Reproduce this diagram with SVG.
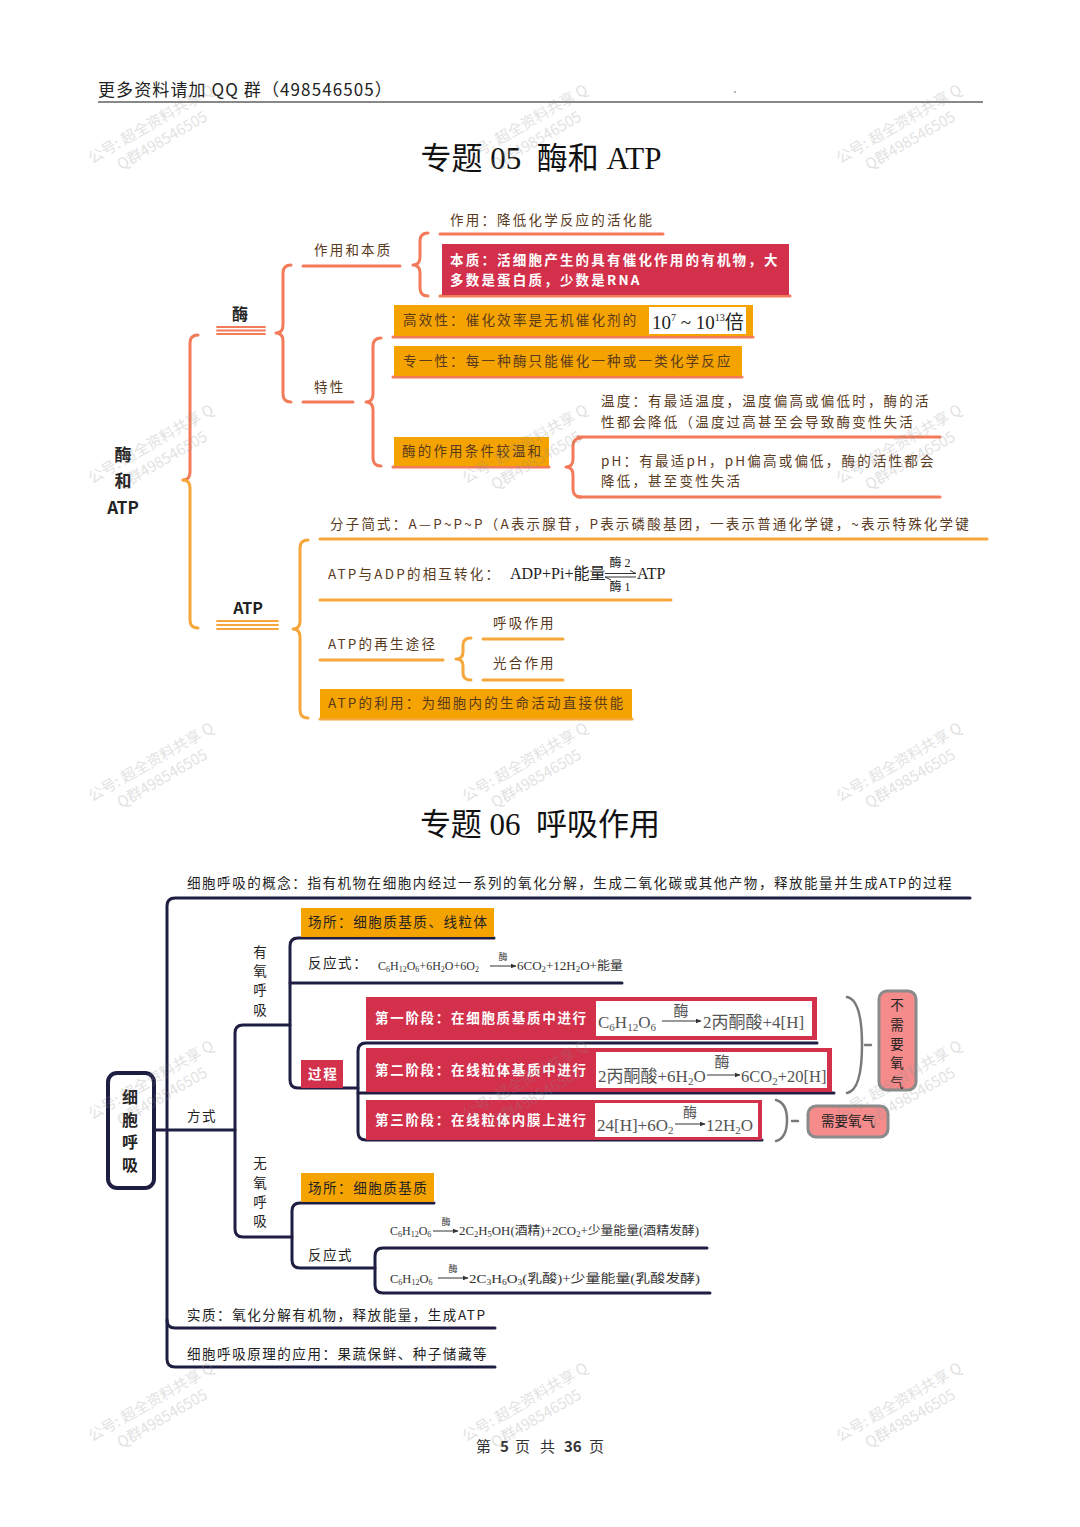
<svg xmlns="http://www.w3.org/2000/svg" width="1080" height="1527" viewBox="0 0 1080 1527">
<defs>
<style>
.hw{font-family:"Noto Sans CJK SC","Noto Sans",sans-serif;font-size:13.5px;letter-spacing:2.2px;fill:#5a3a1c}
.hwb{font-family:"Noto Sans CJK SC","Noto Sans",sans-serif;font-size:13.5px;letter-spacing:2.2px;fill:#fff;font-weight:700}
.rt{font-family:"Noto Sans CJK SC","Noto Sans",sans-serif;font-size:17px;font-weight:700;fill:#222;text-anchor:middle}
.nv{font-family:"Noto Sans CJK SC","Noto Sans",sans-serif;font-size:13.5px;letter-spacing:1.55px;fill:#222}
.nvw{font-family:"Noto Sans CJK SC","Noto Sans",sans-serif;font-size:13.5px;letter-spacing:1.7px;fill:#fff;font-weight:700}
.vc{font-family:"Noto Sans CJK SC","Noto Sans",sans-serif;font-size:13.5px;fill:#222;text-anchor:middle}
.sr{font-family:"Liberation Serif","Noto Sans CJK SC",serif}
.title{font-family:"Liberation Serif","Noto Sans CJK SC",serif;font-size:31px;fill:#111;text-anchor:middle;white-space:pre}
.lc{fill:none;stroke:#f37b5a;stroke-width:3;stroke-linecap:round;stroke-linejoin:round}
.lct{fill:none;stroke:#f37b5a;stroke-width:1.8;stroke-linecap:round}
.lo{fill:none;stroke:#f6a63a;stroke-width:3;stroke-linecap:round;stroke-linejoin:round}
.lot{fill:none;stroke:#f6a63a;stroke-width:1.8;stroke-linecap:round}
.ln{fill:none;stroke:#1e1e42;stroke-width:3;stroke-linecap:round;stroke-linejoin:round}
.ob{fill:#f4a300}
.rb{fill:#d3304c}
.wb{fill:#fff}
.ar{fill:none;stroke:#333;stroke-width:1}
.gb{fill:none;stroke:#7a7a7a;stroke-width:2.5;stroke-linecap:round}
.pk{fill:#f58b8b;stroke:#8a8a8a;stroke-width:3}
.wm{font-family:"Noto Sans CJK SC","Noto Sans",sans-serif;font-size:15px;fill:#8c8c8c;opacity:0.25}
</style>
<marker id="ah" viewBox="0 0 10 10" refX="9" refY="5" markerWidth="6" markerHeight="6" orient="auto" markerUnits="userSpaceOnUse"><path d="M0 1 L10 5 L0 9 z" fill="#333"/></marker>
</defs>
<rect width="1080" height="1527" fill="#fff"/>

<g id="header">
<text x="98" y="96" style="font-family:'Noto Sans CJK SC',sans-serif;font-size:17px;letter-spacing:1.1px;fill:#222">更多资料请加 QQ 群（498546505）</text>
<line x1="98" y1="102" x2="983" y2="102" stroke="#888" stroke-width="2"/>
<circle cx="735" cy="92" r="0.8" fill="#555"/>
</g>

<text id="title1" class="title" x="541" y="169">专题 05  酶和 ATP</text>
<text id="title2" class="title" x="540" y="835">专题 06  呼吸作用</text>

<g id="connectors">
<path class="lc" d="M198 335 Q190 335 190 343 L190 472 Q190 480 183 480"/>
<path class="lo" d="M183 480 Q190 480 190 488 L190 620 Q190 628 198 628"/>
<path class="lc" d="M291 265 Q283 265 283 273 L283 325 Q283 333 276 333 Q283 333 283 341 L283 394 Q283 402 291 402"/>
<path class="lc" d="M428 233 Q420 233 420 241 L420 257 Q420 265 413 265 Q420 265 420 273 L420 288 Q420 296 428 296"/>
<path class="lc" d="M381 338 Q373 338 373 346 L373 394 Q373 402 366 402 Q373 402 373 410 L373 458 Q373 466 381 466"/>
<path class="lc" d="M581 438 Q573 438 573 446 L573 459 Q573 467 566 467 Q573 467 573 475 L573 489 Q573 497 581 497"/>
<path class="lo" d="M308 540 Q300 540 300 548 L300 621 Q300 629 293 629 Q300 629 300 637 L300 710 Q300 718 308 718"/>
<path class="lo" d="M471 638 Q463 638 463 645 L463 652 Q463 659 456 659 Q463 659 463 666 L463 673 Q463 680 471 680"/>
<path class="lc" d="M440 234 L663 234"/>
<path class="lc" d="M303 266 L400 266"/>
<path class="lc" d="M440 296 L790 296"/>
<path class="lc" d="M393 337 L753 337"/>
<path class="lc" d="M393 377 L742 377"/>
<path class="lc" d="M303 402 L353 402"/>
<path class="lc" d="M393 467 L549 467"/>
<path class="lc" d="M578 437 L940 437"/>
<path class="lc" d="M578 497 L940 497"/>
<path class="lo" d="M320 539 L987 539"/>
<path class="lo" d="M320 600 L671 600"/>
<path class="lo" d="M320 660 L443 660"/>
<path class="lo" d="M483 639 L563 639"/>
<path class="lo" d="M483 680 L563 680"/>
<path class="lo" d="M320 719 L632 719"/>
<path class="lct" d="M217 327 L265 327 M217 330.5 L265 330.5 M217 334 L265 334"/>
<path class="lot" d="M217 621 L278 621 M217 625 L278 625 M217 629 L278 629"/>
<path class="ln" d="M970 898 L175 898 Q167 898 167 906 L167 1359 Q167 1367 175 1367 L495 1367"/>
<path class="ln" d="M167 1320 Q167 1328 175 1328 L495 1328"/>
<path class="ln" d="M155 1130 L235 1130"/>
<path class="ln" d="M290 1025 L243 1025 Q235 1025 235 1033 L235 1229 Q235 1237 243 1237 L292 1237"/>
<path class="ln" d="M494 938 L298 938 Q290 938 290 946 L290 1080 Q290 1088 298 1088 L358 1088"/>
<path class="ln" d="M290 983 L622 983"/>
<path class="ln" d="M817 1043 L366 1043 Q358 1043 358 1051 L358 1132 Q358 1140 366 1140 L762 1140"/>
<path class="ln" d="M358 1093 L834 1093"/>
<path class="ln" d="M434 1203 L300 1203 Q292 1203 292 1211 L292 1260 Q292 1268 300 1268 L375 1268"/>
<path class="ln" d="M707 1248 L383 1248 Q375 1248 375 1256 L375 1285 Q375 1293 383 1293 L710 1293"/>
<path class="gb" d="M847 997 Q862 1000 862 1045 Q862 1090 847 1093"/>
<path class="gb" d="M865 1045 L871 1045"/>
<path class="gb" d="M776 1100 Q787 1103 787 1120 Q787 1138 776 1141"/>
<path class="gb" d="M792 1121 L798 1121"/>
</g>

<g id="root1">
<text class="rt" x="123" y="461">酶</text>
<text class="rt" x="123" y="487">和</text>
<text class="rt" x="123" y="514">ATP</text>
</g>
<g id="enzyme"><text class="rt" x="240" y="320" style="font-size:16px">酶</text></g>
<g id="atp"><text class="rt" x="248" y="614" style="font-size:16px">ATP</text></g>
<g id="zuoyong-benzhi"><text class="hw" x="314" y="255">作用和本质</text></g>
<g id="zuoyong"><text class="hw" x="450" y="225">作用：降低化学反应的活化能</text></g>
<g id="benzhi">
<rect class="rb" x="442" y="244" width="347" height="51"/>
<text class="hwb" x="450" y="265">本质：活细胞产生的具有催化作用的有机物，大</text>
<text class="hwb" x="450" y="285">多数是蛋白质，少数是RNA</text>
</g>
<g id="texing"><text class="hw" x="314" y="392">特性</text></g>
<g id="gaoxiao">
<rect class="ob" x="394" y="305" width="359" height="31"/>
<text class="hw" x="403" y="325">高效性：催化效率是无机催化剂的</text>
<rect class="wb" x="649" y="307" width="97" height="27"/>
<text class="sr" x="652" y="329" font-size="19" fill="#222">10<tspan dy="-8" font-size="10">7</tspan><tspan dy="8"> ~ 10</tspan><tspan dy="-8" font-size="10">13</tspan><tspan dy="8">倍</tspan></text>
</g>
<g id="zhuanyi">
<rect class="ob" x="394" y="346" width="348" height="30"/>
<text class="hw" x="403" y="366">专一性：每一种酶只能催化一种或一类化学反应</text>
</g>
<g id="wenhe">
<rect class="ob" x="394" y="437" width="155" height="29"/>
<text class="hw" x="402" y="456">酶的作用条件较温和</text>
</g>
<g id="wendu">
<text class="hw" x="601" y="406">温度：有最适温度，温度偏高或偏低时，酶的活</text>
<text class="hw" x="601" y="427">性都会降低（温度过高甚至会导致酶变性失活</text>
</g>
<g id="ph">
<text class="hw" x="601" y="466">pH：有最适pH，pH偏高或偏低，酶的活性都会</text>
<text class="hw" x="601" y="486">降低，甚至变性失活</text>
</g>
<g id="fenzi"><text class="hw" x="330" y="529">分子简式：A—P~P~P（A表示腺苷，P表示磷酸基团，一表示普通化学键，~表示特殊化学键</text></g>
<g id="zhuanhua">
<text class="hw" x="328" y="579">ATP与ADP的相互转化：</text>
<text class="sr" x="510" y="579" font-size="16" fill="#222">ADP+Pi+能量</text>
<text class="sr" x="637" y="579" font-size="16" fill="#222">ATP</text>
<text class="sr" x="620" y="567" font-size="12" fill="#222" text-anchor="middle">酶 2</text>
<text class="sr" x="620" y="591" font-size="12" fill="#222" text-anchor="middle">酶 1</text>
<path class="ar" d="M605 573.5 L636 573.5 L630 570.5"/>
<path class="ar" d="M636 577 L605 577 L611 580"/>
</g>
<g id="zaisheng"><text class="hw" x="328" y="649">ATP的再生途径</text></g>
<g id="huxi-zy"><text class="hw" x="493" y="628">呼吸作用</text></g>
<g id="guanghe"><text class="hw" x="493" y="668">光合作用</text></g>
<g id="liyong">
<rect class="ob" x="320" y="689" width="312" height="29"/>
<text class="hw" x="328" y="708">ATP的利用：为细胞内的生命活动直接供能</text>
</g>

<g id="gainian"><text class="nv" x="187" y="888">细胞呼吸的概念：指有机物在细胞内经过一系列的氧化分解，生成二氧化碳或其他产物，释放能量并生成ATP的过程</text></g>
<g id="root2">
<rect x="108" y="1073" width="46" height="115" rx="9" fill="#fff" stroke="#1e1e42" stroke-width="4"/>
<text class="rt" x="130" y="1103" style="font-size:16px">细</text>
<text class="rt" x="130" y="1126" style="font-size:16px">胞</text>
<text class="rt" x="130" y="1148" style="font-size:16px">呼</text>
<text class="rt" x="130" y="1171" style="font-size:16px">吸</text>
</g>
<g id="fangshi"><text class="nv" x="187" y="1121">方式</text></g>
<g id="youyang">
<text class="vc" x="260" y="957">有</text>
<text class="vc" x="260" y="976">氧</text>
<text class="vc" x="260" y="995">呼</text>
<text class="vc" x="260" y="1015">吸</text>
</g>
<g id="changsuo1">
<rect class="ob" x="301" y="908" width="193" height="29"/>
<text class="nv" x="308" y="927">场所：细胞质基质、线粒体</text>
</g>
<g id="fanying1">
<text class="nv" x="308" y="968">反应式：</text>
<text class="sr" x="378" y="970" font-size="12" fill="#333">C<tspan dy="2" font-size="8">6</tspan><tspan dy="-2">H</tspan><tspan dy="2" font-size="8">12</tspan><tspan dy="-2">O</tspan><tspan dy="2" font-size="8">6</tspan><tspan dy="-2">+6H</tspan><tspan dy="2" font-size="8">2</tspan><tspan dy="-2">O+6O</tspan><tspan dy="2" font-size="8">2</tspan></text>
<line class="ar" x1="490" y1="966" x2="516" y2="966" marker-end="url(#ah)"/>
<text class="sr" x="503" y="960" font-size="9" fill="#333" text-anchor="middle">酶</text>
<text class="sr" x="517" y="970" font-size="12" fill="#333" textLength="106" lengthAdjust="spacingAndGlyphs">6CO<tspan dy="2" font-size="8">2</tspan><tspan dy="-2">+12H</tspan><tspan dy="2" font-size="8">2</tspan><tspan dy="-2">O+能量</tspan></text>
</g>
<g id="guocheng">
<rect class="rb" x="301" y="1060" width="42" height="28"/>
<text class="nvw" x="308" y="1079">过程</text>
</g>
<g id="stage1">
<rect class="rb" x="366" y="997" width="451" height="43"/>
<rect class="wb" x="596" y="1001" width="216" height="35"/>
<text class="nvw" x="375" y="1023">第一阶段：在细胞质基质中进行</text>
<text class="sr" x="598" y="1028" font-size="17" fill="#555">C<tspan dy="3" font-size="11">6</tspan><tspan dy="-3">H</tspan><tspan dy="3" font-size="11">12</tspan><tspan dy="-3">O</tspan><tspan dy="3" font-size="11">6</tspan></text>
<line class="ar" x1="662" y1="1021" x2="701" y2="1021" marker-end="url(#ah)"/>
<text class="sr" x="681" y="1016" font-size="15" fill="#555" text-anchor="middle">酶</text>
<text class="sr" x="703" y="1028" font-size="17" fill="#555">2丙酮酸+4[H]</text>
</g>
<g id="stage2">
<rect class="rb" x="366" y="1048" width="466" height="44"/>
<rect class="wb" x="596" y="1052" width="231" height="36"/>
<text class="nvw" x="375" y="1075">第二阶段：在线粒体基质中进行</text>
<text class="sr" x="598" y="1082" font-size="17" fill="#555">2丙酮酸+6H<tspan dy="3" font-size="11">2</tspan><tspan dy="-3">O</tspan></text>
<line class="ar" x1="707" y1="1075" x2="740" y2="1075" marker-end="url(#ah)"/>
<text class="sr" x="722" y="1067" font-size="15" fill="#555" text-anchor="middle">酶</text>
<text class="sr" x="741" y="1082" font-size="16.5" fill="#555">6CO<tspan dy="3" font-size="11">2</tspan><tspan dy="-3">+20[H]</tspan></text>
</g>
<g id="stage3">
<rect class="rb" x="366" y="1100" width="396" height="40"/>
<rect class="wb" x="595" y="1103" width="163" height="34"/>
<text class="nvw" x="375" y="1125">第三阶段：在线粒体内膜上进行</text>
<text class="sr" x="597" y="1131" font-size="17" fill="#555">24[H]+6O<tspan dy="3" font-size="11">2</tspan></text>
<line class="ar" x1="675" y1="1124" x2="705" y2="1124" marker-end="url(#ah)"/>
<text class="sr" x="690" y="1117" font-size="14" fill="#555" text-anchor="middle">酶</text>
<text class="sr" x="706" y="1131" font-size="17" fill="#555">12H<tspan dy="3" font-size="11">2</tspan><tspan dy="-3">O</tspan></text>
</g>
<g id="buxuyao">
<rect class="pk" x="879" y="991" width="37" height="99" rx="8"/>
<text class="vc" x="897" y="1010">不</text>
<text class="vc" x="897" y="1030">需</text>
<text class="vc" x="897" y="1049">要</text>
<text class="vc" x="897" y="1068">氧</text>
<text class="vc" x="897" y="1087" style="font-size:13px">气</text>
</g>
<g id="xuyao">
<rect class="pk" x="808" y="1106" width="80" height="31" rx="8"/>
<text class="vc" x="848" y="1126">需要氧气</text>
</g>
<g id="wuyang">
<text class="vc" x="260" y="1168">无</text>
<text class="vc" x="260" y="1188">氧</text>
<text class="vc" x="260" y="1207">呼</text>
<text class="vc" x="260" y="1226">吸</text>
</g>
<g id="changsuo2">
<rect class="ob" x="301" y="1173" width="133" height="29"/>
<text class="nv" x="308" y="1193">场所：细胞质基质</text>
</g>
<g id="fanying2"><text class="nv" x="308" y="1260">反应式</text></g>
<g id="jiujing">
<text class="sr" x="390" y="1235" font-size="12" fill="#333">C<tspan dy="2" font-size="8">6</tspan><tspan dy="-2">H</tspan><tspan dy="2" font-size="8">12</tspan><tspan dy="-2">O</tspan><tspan dy="2" font-size="8">6</tspan></text>
<line class="ar" x1="433" y1="1231" x2="458" y2="1231" marker-end="url(#ah)"/>
<text class="sr" x="446" y="1225" font-size="9" fill="#333" text-anchor="middle">酶</text>
<text class="sr" x="459" y="1235" font-size="12" fill="#333" textLength="240" lengthAdjust="spacingAndGlyphs">2C<tspan dy="2" font-size="8">2</tspan><tspan dy="-2">H</tspan><tspan dy="2" font-size="8">5</tspan><tspan dy="-2">OH(酒精)+2CO</tspan><tspan dy="2" font-size="8">2</tspan><tspan dy="-2">+少量能量(酒精发酵)</tspan></text>
</g>
<g id="rusuan">
<text class="sr" x="390" y="1283" font-size="12.5" fill="#333">C<tspan dy="2" font-size="8">6</tspan><tspan dy="-2">H</tspan><tspan dy="2" font-size="8">12</tspan><tspan dy="-2">O</tspan><tspan dy="2" font-size="8">6</tspan></text>
<line class="ar" x1="438" y1="1278" x2="468" y2="1278" marker-end="url(#ah)"/>
<text class="sr" x="453" y="1272" font-size="9" fill="#333" text-anchor="middle">酶</text>
<text class="sr" x="469" y="1283" font-size="12.5" fill="#333" textLength="231" lengthAdjust="spacingAndGlyphs">2C<tspan dy="2" font-size="8">3</tspan><tspan dy="-2">H</tspan><tspan dy="2" font-size="8">6</tspan><tspan dy="-2">O</tspan><tspan dy="2" font-size="8">3</tspan><tspan dy="-2">(乳酸)+少量能量(乳酸发酵)</tspan></text>
</g>
<g id="shizhi"><text class="nv" x="187" y="1320">实质：氧化分解有机物，释放能量，生成ATP</text></g>
<g id="yingyong"><text class="nv" x="187" y="1359">细胞呼吸原理的应用：果蔬保鲜、种子储藏等</text></g>

<g id="footer" style="font-family:'Noto Sans CJK SC',sans-serif;font-size:15px;fill:#333">
<text x="476" y="1452">第</text>
<text x="500" y="1452" style="font-weight:700">5</text>
<text x="515" y="1452">页</text>
<text x="540" y="1452">共</text>
<text x="564" y="1452" style="font-weight:700">36</text>
<text x="589" y="1452">页</text>
</g>

<g id="watermarks">
<g transform="translate(92 164) rotate(-30)"><text class="wm" x="0" y="0">公号: 超全资料共享 Q</text><text class="wm" x="22" y="20">Q群498546505</text></g>
<g transform="translate(466 164) rotate(-30)"><text class="wm" x="0" y="0">公号: 超全资料共享 Q</text><text class="wm" x="22" y="20">Q群498546505</text></g>
<g transform="translate(840 164) rotate(-30)"><text class="wm" x="0" y="0">公号: 超全资料共享 Q</text><text class="wm" x="22" y="20">Q群498546505</text></g>
<g transform="translate(92 484) rotate(-30)"><text class="wm" x="0" y="0">公号: 超全资料共享 Q</text><text class="wm" x="22" y="20">Q群498546505</text></g>
<g transform="translate(466 484) rotate(-30)"><text class="wm" x="0" y="0">公号: 超全资料共享 Q</text><text class="wm" x="22" y="20">Q群498546505</text></g>
<g transform="translate(840 484) rotate(-30)"><text class="wm" x="0" y="0">公号: 超全资料共享 Q</text><text class="wm" x="22" y="20">Q群498546505</text></g>
<g transform="translate(92 802) rotate(-30)"><text class="wm" x="0" y="0">公号: 超全资料共享 Q</text><text class="wm" x="22" y="20">Q群498546505</text></g>
<g transform="translate(466 802) rotate(-30)"><text class="wm" x="0" y="0">公号: 超全资料共享 Q</text><text class="wm" x="22" y="20">Q群498546505</text></g>
<g transform="translate(840 802) rotate(-30)"><text class="wm" x="0" y="0">公号: 超全资料共享 Q</text><text class="wm" x="22" y="20">Q群498546505</text></g>
<g transform="translate(92 1120) rotate(-30)"><text class="wm" x="0" y="0">公号: 超全资料共享 Q</text><text class="wm" x="22" y="20">Q群498546505</text></g>
<g transform="translate(466 1120) rotate(-30)"><text class="wm" x="0" y="0">公号: 超全资料共享 Q</text><text class="wm" x="22" y="20">Q群498546505</text></g>
<g transform="translate(840 1120) rotate(-30)"><text class="wm" x="0" y="0">公号: 超全资料共享 Q</text><text class="wm" x="22" y="20">Q群498546505</text></g>
<g transform="translate(92 1442) rotate(-30)"><text class="wm" x="0" y="0">公号: 超全资料共享 Q</text><text class="wm" x="22" y="20">Q群498546505</text></g>
<g transform="translate(466 1442) rotate(-30)"><text class="wm" x="0" y="0">公号: 超全资料共享 Q</text><text class="wm" x="22" y="20">Q群498546505</text></g>
<g transform="translate(840 1442) rotate(-30)"><text class="wm" x="0" y="0">公号: 超全资料共享 Q</text><text class="wm" x="22" y="20">Q群498546505</text></g>
</g>
</svg>
